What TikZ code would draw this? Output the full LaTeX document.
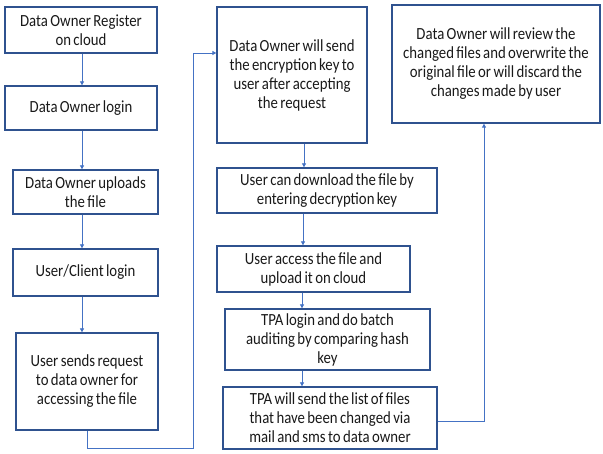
\documentclass[tikz,border=0pt]{standalone}
\usepackage{fontspec}
\setmainfont{Carlito}[FakeStretch=0.87]
\usetikzlibrary{arrows.meta,calc}
\definecolor{boxline}{HTML}{2F528F}
\definecolor{flowline}{HTML}{4472C4}
\newcommand{\boxfont}{\fontsize{17}{19}\selectfont\spaceskip=0.14em\relax}
\begin{document}
\begin{tikzpicture}[x=1pt,y=-1pt,
  stepbox/.style={draw=boxline,line width=1.3pt,rectangle,inner sep=0pt,
    align=center,font=\boxfont,text=black!90},
  flow/.style={draw=flowline,line width=0.8pt,
    -{Triangle[width=4pt,length=4pt]}}]
\useasboundingbox (0,0) rectangle (603,454);
% left column
\node[stepbox,minimum width=152pt,minimum height=46pt] (b1) at (81,30)
  {Data Owner Register\\on cloud};
\node[stepbox,minimum width=152pt,minimum height=44pt] (b2) at (81,108)
  {Data Owner login};
\node[stepbox,minimum width=145pt,minimum height=44pt] (b3) at (85.5,192)
  {Data Owner uploads\\the file};
\node[stepbox,minimum width=145pt,minimum height=47pt] (b4) at (85.5,272.5)
  {User/Client login};
\node[stepbox,minimum width=142pt,minimum height=97pt] (b5) at (87,381.5)
  {User sends request\\to data owner for\\accessing the file};
% middle column
\node[stepbox,minimum width=150pt,minimum height=136pt] (b6) at (292,75)
  {Data Owner will send\\the encryption key to\\user after accepting\\the request};
\node[stepbox,minimum width=220pt,minimum height=45pt] (b7) at (327,190.5)
  {User can download the file by\\entering decryption key};
\node[stepbox,minimum width=193pt,minimum height=46pt] (b8) at (313.5,269)
  {User access the file and\\upload it on cloud};
\node[stepbox,minimum width=205pt,minimum height=61pt] (b9) at (327.5,339.5)
  {TPA login and do batch\\auditing by comparing hash\\key};
\node[stepbox,minimum width=214pt,minimum height=62pt] (b10) at (330,418)
  {TPA will send the list of files\\that have been changed via\\mail and sms to data owner};
% right column
\node[stepbox,minimum width=208pt,minimum height=118pt] (b11) at (496,64)
  {Data Owner will review the\\changed files and overwrite the\\original file or will discard the\\changes made by user};
% connector routing points
\coordinate (c12) at (82,0);
\coordinate (c67) at (304,0);
\coordinate (c78) at (303,0);
\coordinate (c89) at (302,0);
\coordinate (d1) at (87,448);
\coordinate (d2) at (193,448);
\coordinate (d3) at (193,53);
\coordinate (e1) at (484,421);
% connectors
\draw[flow] (b1.south -| c12) -- (b2.north -| c12);
\draw[flow] (b2.south -| c12) -- (b3.north -| c12);
\draw[flow] (b3.south -| c12) -- (b4.north -| c12);
\draw[flow] (b4.south -| c12) -- (b5.north -| c12);
\draw[flow] (b5.south -| d1) -- (d1) -- (d2) -- (d3) -- (b6.west |- d3);
\draw[flow] (b6.south -| c67) -- (b7.north -| c67);
\draw[flow] (b7.south -| c78) -- (b8.north -| c78);
\draw[flow] (b8.south -| c89) -- (b9.north -| c89);
\draw[flow] (b9.south -| c89) -- (b10.north -| c89);
\draw[flow] (b10.east |- e1) -- (e1) -- (b11.south -| e1);
\end{tikzpicture}
\end{document}
